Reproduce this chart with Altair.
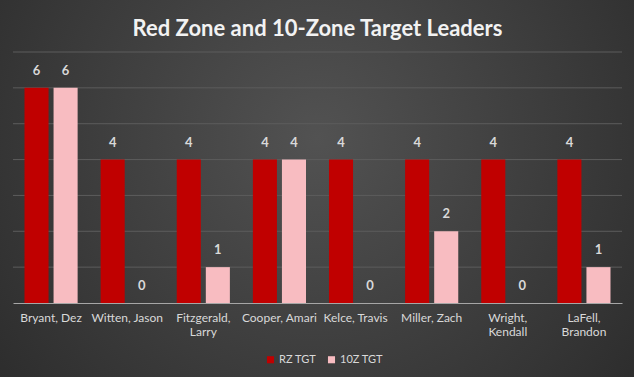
import altair as alt
import pandas as pd

players = ["Bryant, Dez", "Witten, Jason", "Fitzgerald, Larry", "Cooper, Amari",
           "Kelce, Travis", "Miller, Zach", "Wright, Kendall", "LaFell, Brandon"]
rz_tgt = [6, 4, 4, 4, 4, 4, 4, 4]
tz_tgt = [6, 0, 1, 4, 0, 2, 0, 1]
series = ["RZ TGT", "10Z TGT"]
colors = ["#C00000", "#F8BCC1"]
grid_values = [1, 2, 3, 4, 5, 6, 7]

rows = []
for p, a, b in zip(players, rz_tgt, tz_tgt):
    rows.append({"player": p, "series": series[0], "value": a})
    rows.append({"player": p, "series": series[1], "value": b})
df = pd.DataFrame(rows)

W, H = 609, 251
PL, PT, PR, PB = 13, 52, 12, 74
FONT = "Lato"

x_enc = alt.X(
    "player:N", sort=players,
    scale=alt.Scale(paddingInner=0.302, paddingOuter=0.151),
    axis=alt.Axis(title=None, labelAngle=0, ticks=False, domainColor="#a6a6a6",
                  domainWidth=1, labelColor="#d9d9d9", labelFont=FONT,
                  labelFontSize=12, labelPadding=9, labelLineHeight=14, zindex=1,
                  labelExpr="length(datum.label) > 13 ? split(datum.label, ' ') : datum.label"),
)
xo_enc = alt.XOffset("series:N", sort=series,
                     scale=alt.Scale(paddingInner=0.172, paddingOuter=0))
y_scale = alt.Scale(domain=[0, 7], nice=False)

bg = alt.Chart(pd.DataFrame({"k": [0]})).mark_rect(
    fill={"gradient": "radial", "x1": 0.5, "y1": 0.42, "x2": 0.5, "y2": 0.42,
          "r1": 0, "r2": 0.75,
          "stops": [{"offset": 0, "color": "#525252"},
                    {"offset": 1, "color": "#262626"}]}
).encode(x=alt.value(-PL), x2=alt.value(W + PR), y=alt.value(-PT), y2=alt.value(H + PB))

grid = alt.Chart(pd.DataFrame({"v": grid_values})).mark_rule(
    color="#5c5c5c", strokeWidth=1
).encode(y=alt.Y("v:Q", scale=y_scale, axis=None), x=alt.value(0), x2=alt.value(W))

bars = alt.Chart(df).mark_bar().encode(
    x=x_enc, xOffset=xo_enc,
    y=alt.Y("value:Q", scale=y_scale, axis=None),
    color=alt.Color("series:N", sort=series,
                    scale=alt.Scale(domain=series, range=colors),
                    legend=alt.Legend(title=None, orient="none", legendX=252, legendY=302,
                                      direction="horizontal", symbolType="square",
                                      symbolSize=50, symbolStrokeWidth=0,
                                      labelColor="#d9d9d9", labelFont=FONT,
                                      labelFontSize=11, columnPadding=10, labelOffset=3)),
)

labels = alt.Chart(df).mark_text(
    dy=-10, baseline="bottom", fontWeight="bold", fontSize=13, color="#d9d9d9", font=FONT
).encode(x=x_enc, xOffset=xo_enc, y=alt.Y("value:Q", scale=y_scale, axis=None),
         text="value:Q")

chart = alt.layer(bg, grid, bars, labels).properties(
    width=W, height=H,
    padding={"left": PL, "top": PT, "right": PR, "bottom": PB},
    autosize="none",
    background="#3a3a3a",
    title=alt.Title("Red Zone and 10-Zone Target Leaders", font=FONT, fontSize=22,
                    fontWeight="bold", color="#f2f2f2", anchor="middle", frame="group",
                    baseline="alphabetic", offset=16, dy=74),
).configure_view(stroke=None)

chart.save("out.html", embed_options={"renderer": "svg", "actions": False})
